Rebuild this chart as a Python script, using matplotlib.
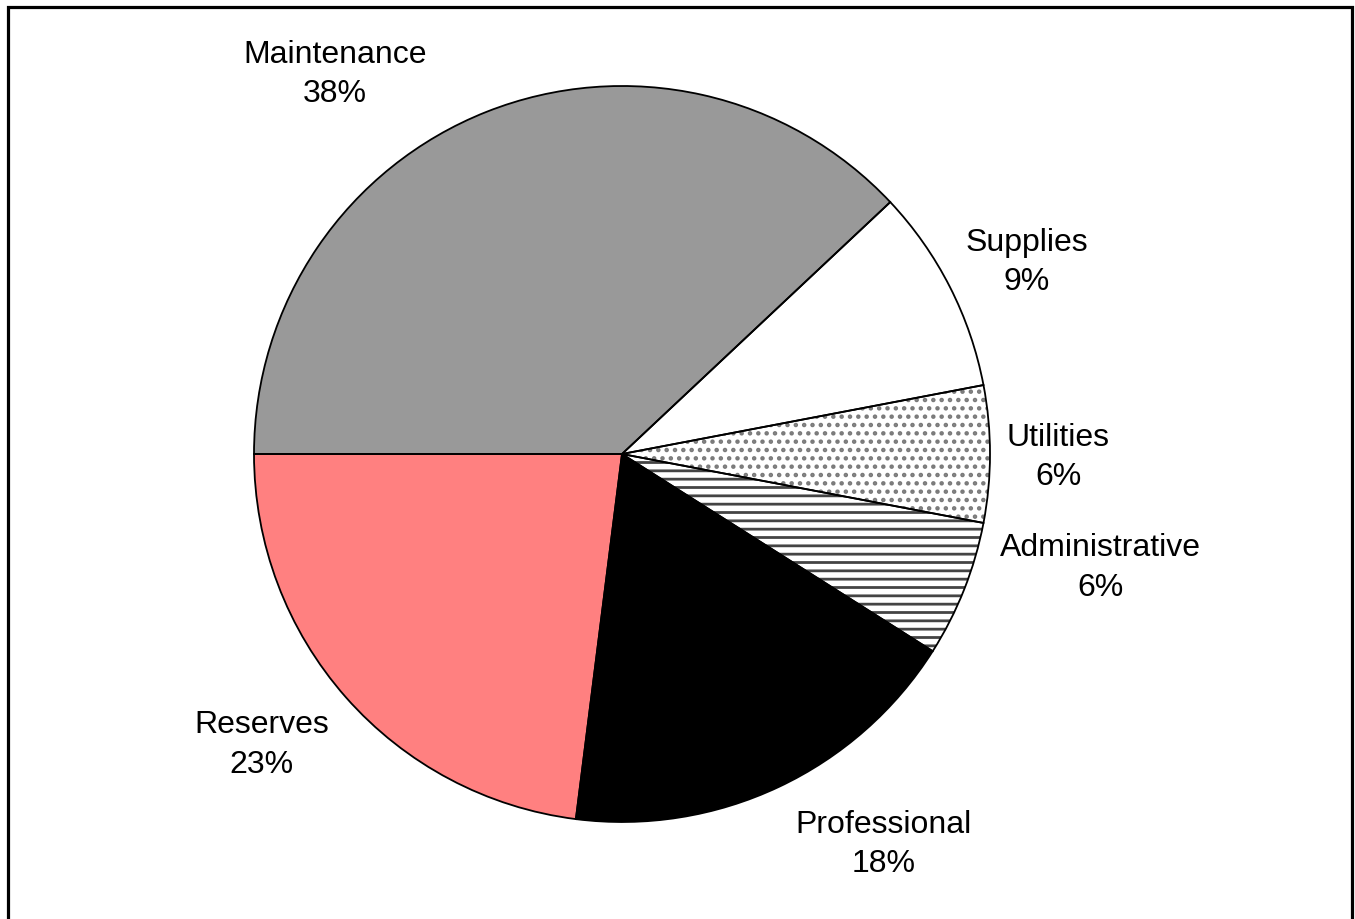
import matplotlib
matplotlib.use('Agg')
import matplotlib.pyplot as plt
from matplotlib.patches import Rectangle

plt.rcParams['font.family'] = ['Liberation Sans', 'DejaVu Sans']
plt.rcParams['hatch.linewidth'] = 2.0

categories = ['Maintenance', 'Supplies', 'Utilities', 'Administrative', 'Professional', 'Reserves']
shares = [38, 9, 6, 6, 18, 23]
fills = ['#999999', 'white', 'white', 'white', 'black', '#ff8080']
hatches = [None, None, '..', '--', None, None]
hatch_colors = ['#999999', 'white', '#7a7a7a', '#444444', 'black', '#ff8080']
# label centres in pie radius units
label_pos = [(-0.78, 1.033), (1.10, 0.523), (1.185, -0.007), (1.30, -0.307), (0.71, -1.058), (-0.98, -0.788)]

W, H = 1355, 920
cx, cy, r = 622, 455, 368
fig = plt.figure(figsize=(W / 100, H / 100), dpi=100)
ax = fig.add_axes([(cx - r) / W, (H - cy - r) / H, 2 * r / W, 2 * r / H])

# fills and hatches
wedges, _ = ax.pie(shares, startangle=180, counterclock=False, radius=1,
                   colors=fills, wedgeprops=dict(linewidth=0))
for w, h, hc in zip(wedges, hatches, hatch_colors):
    if h:
        w.set_hatch(h)
        w.set_edgecolor(hc)
# outlines
ax.pie(shares, startangle=180, counterclock=False, radius=1,
       wedgeprops=dict(fill=False, edgecolor='black', linewidth=1.3))

for name, val, (x, y) in zip(categories, shares, label_pos):
    ax.text(x, y, f'{name}\n{val}%', ha='center', va='center', fontsize=23,
            linespacing=1.4)

ax.set_xlim(-1, 1)
ax.set_ylim(-1, 1)
ax.set_aspect('equal')
ax.axis('off')

fig.patches.append(Rectangle((8 / W, -0.05), (1352 - 8) / W, 1.05 - 7.5 / H,
                             transform=fig.transFigure, fill=False,
                             edgecolor='black', linewidth=2.3))

fig.savefig('out.png', dpi=100)
